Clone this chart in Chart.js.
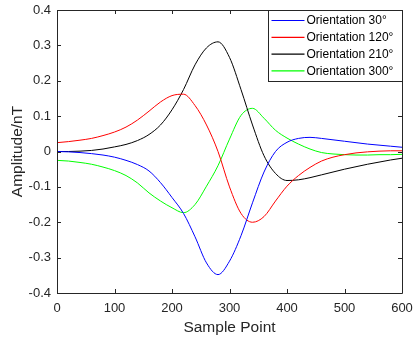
<!DOCTYPE html>
<html>
<head>
<meta charset="utf-8">
<script src="https://cdn.jsdelivr.net/npm/chart.js@4.4.0/dist/chart.umd.min.js"></script>
<style>
  html, body { margin: 0; padding: 0; background: #fff; }
  #wrap { width: 413px; height: 343px; }
</style>
</head>
<body>
<div id="wrap"><canvas id="chart" width="413" height="343"></canvas></div>
<script>
const samplePoints = [0, 20, 40, 60, 80, 100, 120, 140, 160, 180, 200, 220, 240, 260, 280, 300,
    320, 340, 360, 380, 400, 420, 440, 460, 480, 500, 520, 540, 560, 580, 600];

const orient30 = [0.000, -0.001, -0.003, -0.006, -0.010, -0.016, -0.025, -0.037, -0.055, -0.088, -0.130,
    -0.175, -0.241, -0.315, -0.348, -0.310, -0.238, -0.145, -0.058, 0.000, 0.026, 0.037, 0.040,
    0.037, 0.033, 0.029, 0.025, 0.021, 0.018, 0.015, 0.012];
const orient120 = [0.025, 0.028, 0.032, 0.037, 0.045, 0.055, 0.069, 0.089, 0.114, 0.140, 0.158,
    0.162, 0.130, 0.075, 0.000, -0.100, -0.175, -0.200, -0.184, -0.140, -0.098, -0.068, -0.045,
    -0.027, -0.016, -0.009, -0.004, -0.001, 0.001, 0.002, 0.002];
const orient210 = [0.000, 0.000, 0.001, 0.003, 0.007, 0.013, 0.020, 0.031, 0.048, 0.075, 0.118,
    0.175, 0.245, 0.293, 0.310, 0.266, 0.175, 0.075, -0.012, -0.062, -0.082, -0.080, -0.074,
    -0.066, -0.058, -0.050, -0.043, -0.036, -0.030, -0.024, -0.019];
const orient300 = [-0.025, -0.027, -0.031, -0.036, -0.044, -0.054, -0.068, -0.089, -0.117, -0.140, -0.159,
    -0.173, -0.150, -0.098, -0.040, 0.035, 0.102, 0.122, 0.094, 0.060, 0.038, 0.021, 0.007,
    -0.003, -0.007, -0.009, -0.010, -0.010, -0.009, -0.009, -0.008];

const seriesLabels = ['Orientation 30°', 'Orientation 120°', 'Orientation 210°', 'Orientation 300°'];
const seriesColors = ['#0000ff', '#ff0000', '#000000', '#00ff00'];
const seriesData = [orient30, orient120, orient210, orient300];

const xTicks = [0, 100, 200, 300, 400, 500, 600];
const yTicks = [-0.4, -0.3, -0.2, -0.1, 0, 0.1, 0.2, 0.3, 0.4];

const textColor = '#262626';
const fontFamily = '"Liberation Sans", Arial, sans-serif';

// box around the plot with inward ticks, like matlab
const boxPlugin = {
    id: 'box',
    afterDatasetsDraw(chart) {
        const { ctx, chartArea: a, scales: { x, y } } = chart;
        ctx.save();
        ctx.strokeStyle = '#262626';
        ctx.lineWidth = 1;
        ctx.beginPath();
        ctx.rect(Math.round(a.left) + 0.5, Math.round(a.top) + 0.5,
            Math.round(a.right - a.left), Math.round(a.bottom - a.top));
        const len = 4;
        xTicks.forEach(v => {
            const px = Math.round(x.getPixelForValue(v)) + 0.5;
            ctx.moveTo(px, a.bottom); ctx.lineTo(px, a.bottom - len);
            ctx.moveTo(px, a.top); ctx.lineTo(px, a.top + len);
        });
        yTicks.forEach(v => {
            const py = Math.round(y.getPixelForValue(v)) + 0.5;
            ctx.moveTo(a.left, py); ctx.lineTo(a.left + len, py);
            ctx.moveTo(a.right, py); ctx.lineTo(a.right - len, py);
        });
        ctx.stroke();

        // legend box in top right corner
        const w = 134, h = 71;
        const lx = Math.round(a.right) - w + 0.5, ly = Math.round(a.top) + 0.5;
        ctx.fillStyle = '#fff';
        ctx.fillRect(lx, ly, w, h);
        ctx.strokeStyle = '#262626';
        ctx.strokeRect(lx, ly, w, h);
        ctx.font = '12px ' + fontFamily;
        ctx.textBaseline = 'middle';
        seriesLabels.forEach((lab, i) => {
            const ry = ly + 10 + i * 16.8;
            ctx.strokeStyle = seriesColors[i];
            ctx.lineWidth = 1.2;
            ctx.beginPath();
            ctx.moveTo(lx + 3, ry);
            ctx.lineTo(lx + 36, ry);
            ctx.stroke();
            ctx.fillStyle = '#000';
            ctx.fillText(lab, lx + 38, ry + 0.5);
        });
        ctx.restore();
    }
};

new Chart(document.getElementById('chart'), {
    type: 'line',
    data: {
        labels: samplePoints,
        datasets: seriesLabels.map((lab, i) => ({
            label: lab,
            data: samplePoints.map((p, j) => ({ x: p, y: seriesData[i][j] })),
            borderColor: seriesColors[i],
            backgroundColor: seriesColors[i],
            borderWidth: 1,
            pointRadius: 0,
            cubicInterpolationMode: 'monotone',
            fill: false
        }))
    },
    options: {
        responsive: false,
        animation: false,
        layout: { padding: { top: 10, right: 11, left: 0, bottom: 0 } },
        plugins: {
            legend: { display: false },
            tooltip: { enabled: false }
        },
        scales: {
            x: {
                type: 'linear',
                min: 0,
                max: 600,
                afterFit: s => {
                    s.height = 50;
                    s.paddingLeft = 0;
                    s.paddingRight = 0;
                },
                afterBuildTicks: s => { s.ticks = xTicks.map(v => ({ value: v })); },
                grid: { display: false, drawTicks: false },
                border: { display: false },
                ticks: { color: textColor, font: { family: fontFamily, size: 13 }, padding: 8, maxRotation: 0 },
                title: {
                    display: true,
                    text: 'Sample Point',
                    color: textColor,
                    font: { family: fontFamily, size: 15.5 },
                    padding: { top: 0, bottom: 6 }
                }
            },
            y: {
                min: -0.4,
                max: 0.4,
                afterFit: s => {
                    s.width = 57;
                    s.paddingTop = 0;
                    s.paddingBottom = 0;
                },
                afterBuildTicks: s => { s.ticks = yTicks.map(v => ({ value: v })); },
                grid: { display: false, drawTicks: false },
                border: { display: false },
                ticks: {
                    color: textColor,
                    font: { family: fontFamily, size: 13 },
                    padding: 6,
                    callback: v => String(Math.round(v * 10) / 10)
                },
                title: {
                    display: true,
                    text: 'Amplitude/nT',
                    color: textColor,
                    font: { family: fontFamily, size: 15.5 },
                    padding: { top: 8, bottom: 0 }
                }
            }
        }
    },
    plugins: [boxPlugin]
});
</script>
</body>
</html>
